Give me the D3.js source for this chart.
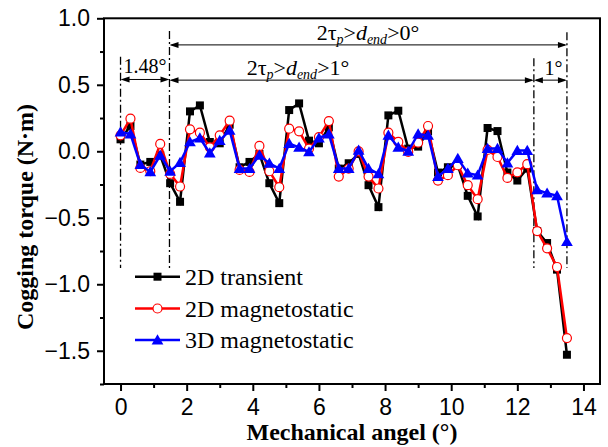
<!DOCTYPE html>
<html>
<head>
<meta charset="utf-8">
<script src="https://cdn.jsdelivr.net/npm/d3@7/dist/d3.min.js"></script>
<style>
  html, body { margin: 0; padding: 0; background: #ffffff; }
  svg { display: block; }
</style>
</head>
<body>
<svg id="chart" width="608" height="447"></svg>
<script>
// ---------------- DATA ----------------
const angles = [0,0.3,0.6,0.9,1.2,1.5,1.8,2.1,2.4,2.7,3.0,3.3,3.6,3.9,4.2,4.5,4.8,5.1,5.4,5.7,6.0,6.3,6.6,6.9,7.2,7.5,7.8,8.1,8.4,8.7,9.0,9.3,9.6,9.9,10.2,10.5,10.8,11.1,11.4,11.7,12.0,12.3,12.6,12.9,13.2,13.5];

const transient2D = [0.09,0.19,-0.10,-0.08,-0.03,-0.24,-0.38,0.30,0.345,0.07,0.06,0.20,-0.12,-0.08,-0.02,-0.24,-0.39,0.31,0.36,0.08,0.06,0.18,-0.13,-0.09,-0.02,-0.255,-0.42,0.27,0.305,0.02,0.035,0.15,-0.16,-0.12,-0.105,-0.335,-0.49,0.175,0.152,-0.16,-0.22,-0.13,-0.60,-0.69,-0.89,-1.53];

const magneto2D = [0.12,0.245,-0.125,-0.15,0.055,-0.17,-0.265,0.165,0.14,0.03,0.12,0.23,-0.14,-0.155,0.04,-0.15,-0.27,0.17,0.15,0.02,0.107,0.227,-0.19,-0.13,0.0,-0.19,-0.28,0.14,0.07,-0.005,0.065,0.19,-0.22,-0.18,-0.105,-0.255,-0.36,0.01,-0.043,-0.2,-0.158,-0.097,-0.60,-0.73,-0.87,-1.405];

const magneto3D = [0.145,0.13,-0.10,-0.155,-0.03,-0.15,-0.085,0.07,0.10,-0.013,0.08,0.157,-0.13,-0.13,-0.03,-0.09,-0.13,0.058,0.03,-0.005,0.10,0.13,-0.13,-0.13,0.007,-0.13,-0.17,0.12,0.03,0.0,0.13,0.12,-0.19,-0.13,-0.055,-0.165,-0.18,0.02,0.02,-0.088,0.005,0.005,-0.29,-0.315,-0.335,-0.68];

const seriesNames = ["2D transient", "2D magnetostatic", "3D magnetostatic"];
const xMajorTicks = [0,2,4,6,8,10,12,14];
const xMinorTicks = [1,3,5,7,9,11,13];
const yMajorTicks = [-1.5,-1.0,-0.5,0.0,0.5,1.0];
const yMinorTicks = [-1.75,-1.25,-0.75,-0.25,0.25,0.75];
const xDomain = [-0.5, 14.5];
const yDomain = [-1.75, 1.0];

// annotation values (data units)
const region1Start = 0, region1End = 1.48, region2End = 12.5, region3End = 13.5;

// ---------------- LAYOUT ----------------
const svg = d3.select("#chart");
const L = 104, R = 600, T = 18.3, B = 384;
const x = d3.scaleLinear().domain(xDomain).range([L, R]);
const y = d3.scaleLinear().domain(yDomain).range([B, T]);

const serif = "'Liberation Serif','Times New Roman',serif";
const sans = "'Liberation Sans',Arial,sans-serif";

svg.append("rect").attr("width", 608).attr("height", 447).attr("fill", "#ffffff");

// ---------------- ANNOTATIONS ----------------
const ann = svg.append("g");
const dashPat = "8,3,2,3";
function vline(xv, y0, y1) {
  ann.append("line")
    .attr("x1", x(xv)).attr("x2", x(xv))
    .attr("y1", y(y0)).attr("y2", y(y1))
    .attr("stroke", "#000").attr("stroke-width", 1.3)
    .attr("stroke-dasharray", dashPat);
}
vline(region1Start, 0.71, -0.877);
vline(region1End, 0.905, -0.895);
vline(region2End, 0.70, -0.877);
vline(region3End, 0.895, -0.877);

function arrowHead(px, py, dir) {
  // dir = -1 pointing left, +1 pointing right; tip at px
  const len = 9, hw = 3;
  ann.append("path")
    .attr("d", `M${px},${py} L${px - dir*len},${py - hw} L${px - dir*len},${py + hw} Z`)
    .attr("fill", "#000");
}
function dblArrow(x0, x1, yv) {
  const py = y(yv);
  ann.append("line")
    .attr("x1", x(x0) + 2).attr("x2", x(x1) - 2)
    .attr("y1", py).attr("y2", py)
    .attr("stroke", "#000").attr("stroke-width", 1);
  arrowHead(x(x0), py, -1);
  arrowHead(x(x1), py, 1);
}
dblArrow(region1End, region3End, 0.80);
dblArrow(region1End, region2End, 0.535);
dblArrow(region1Start, region1End, 0.54);
dblArrow(region2End, region3End, 0.535);

function condLabel(cx, by, last) {
  const t = ann.append("text")
    .attr("x", cx).attr("y", by)
    .attr("text-anchor", "middle")
    .attr("font-family", serif).attr("font-size", 22).attr("fill", "#000");
  t.append("tspan").text("2τ");
  t.append("tspan").attr("font-style", "italic").attr("font-size", 14).attr("dy", 4).text("p");
  t.append("tspan").attr("dy", -4).text(">");
  t.append("tspan").attr("font-style", "italic").text("d");
  t.append("tspan").attr("font-style", "italic").attr("font-size", 14).attr("dy", 4).text("end");
  t.append("tspan").attr("dy", -4).text(">" + last);
}
condLabel(368, 40, "0°");
condLabel(298, 75, "1°");

ann.append("text")
  .attr("x", (x(region1Start) + x(region1End)) / 2).attr("y", 73)
  .attr("text-anchor", "middle")
  .attr("font-family", serif).attr("font-size", 20).text("1.48°");
ann.append("text")
  .attr("x", (x(region2End) + x(region3End)) / 2 + 3).attr("y", 75)
  .attr("text-anchor", "middle")
  .attr("font-family", serif).attr("font-size", 20).text("1°");

// ---------------- AXES ----------------
const xAxisMajor = d3.axisBottom(x).tickValues(xMajorTicks).tickSize(7).tickPadding(6).tickFormat(d3.format("d"));
const xAxisMinor = d3.axisBottom(x).tickValues(xMinorTicks).tickSize(4).tickFormat("");
const yAxisMajor = d3.axisLeft(y).tickValues(yMajorTicks).tickSize(7).tickPadding(7).tickFormat(d3.format(".1f"));
const yAxisMinor = d3.axisLeft(y).tickValues(yMinorTicks).tickSize(4).tickFormat("");

function styleAxis(g) {
  g.select(".domain").remove();
  g.selectAll(".tick line").attr("stroke", "#000").attr("stroke-width", 2);
  g.selectAll(".tick text").attr("font-family", sans).attr("font-size", 23).attr("fill", "#000");
}
svg.append("g").attr("transform", `translate(0,${B})`).call(xAxisMajor).call(styleAxis);
svg.append("g").attr("transform", `translate(0,${B})`).call(xAxisMinor).call(styleAxis);
svg.append("g").attr("transform", `translate(${L},0)`).call(yAxisMajor).call(styleAxis);
svg.append("g").attr("transform", `translate(${L},0)`).call(yAxisMinor).call(styleAxis);
svg.selectAll(".tick text").filter(function(){ return this.parentNode.parentNode.getAttribute("transform").startsWith("translate(0"); })
  .attr("dy", "0.78em");

svg.append("rect")
  .attr("x", L).attr("y", T).attr("width", R - L).attr("height", B - T)
  .attr("fill", "none").attr("stroke", "#000").attr("stroke-width", 2);

// axis titles
svg.append("text")
  .attr("x", (L + R) / 2).attr("y", 440)
  .attr("text-anchor", "middle")
  .attr("font-family", serif).attr("font-weight", "bold").attr("font-size", 24)
  .text("Mechanical angel (°)");
svg.append("text")
  .attr("transform", "translate(33,217) rotate(-90)")
  .attr("text-anchor", "middle")
  .attr("font-family", serif).attr("font-weight", "bold").attr("font-size", 24)
  .text("Cogging torque (N·m)");

// ---------------- SERIES ----------------
const series = [
  { name: seriesNames[0], values: transient2D, color: "#000000", marker: "square" },
  { name: seriesNames[1], values: magneto2D, color: "#ff0000", marker: "circle" },
  { name: seriesNames[2], values: magneto3D, color: "#0000ff", marker: "triangle" }
];
const line = d3.line().x(d => x(d[0])).y(d => y(d[1]));

function drawMarker(g, kind, color, px, py) {
  if (kind === "square") {
    g.append("path").attr("d", d3.symbol(d3.symbolSquare, 64)()).attr("transform", `translate(${px},${py})`).attr("fill", color);
  } else if (kind === "circle") {
    g.append("circle").attr("cx", px).attr("cy", py).attr("r", 4.5).attr("fill", "#fff").attr("stroke", color).attr("stroke-width", 1.2);
  } else {
    g.append("path").attr("d", d3.symbol(d3.symbolTriangle, 60)()).attr("transform", `translate(${px},${py + 1})`).attr("fill", color);
  }
}

series.forEach(s => {
  const pts = angles.map((a, i) => [a, s.values[i]]);
  const g = svg.append("g");
  g.append("path").datum(pts).attr("d", line)
    .attr("fill", "none").attr("stroke", s.color).attr("stroke-width", 2.5).attr("stroke-linejoin", "miter");
  pts.forEach(p => drawMarker(g, s.marker, s.color, x(p[0]), y(p[1])));
});

// ---------------- LEGEND ----------------
const legendY = [276.7, 308.5, 340];
const lg = svg.append("g");
series.forEach((s, i) => {
  const ly = legendY[i];
  lg.append("line").attr("x1", 135).attr("x2", 180).attr("y1", ly).attr("y2", ly)
    .attr("stroke", s.color).attr("stroke-width", 2.5);
  drawMarker(lg, s.marker, s.color, 157.5, ly);
  lg.append("text").attr("x", 185).attr("y", ly).attr("dy", "0.34em")
    .attr("font-family", serif).attr("font-size", 24).attr("fill", "#000").text(s.name);
});
</script>
</body>
</html>
